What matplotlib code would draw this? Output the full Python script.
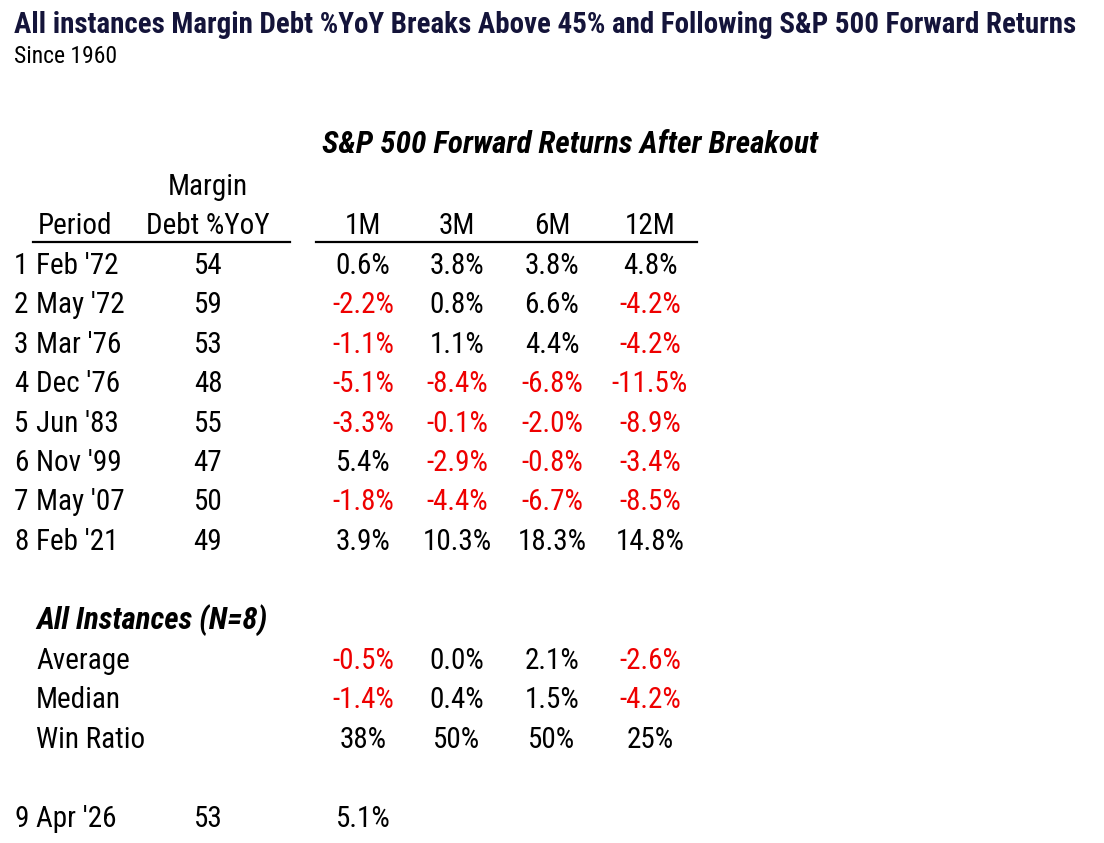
import matplotlib.pyplot as plt
from matplotlib.lines import Line2D

plt.rcParams['font.family'] = ['Roboto Condensed', 'Archivo Narrow', 'DejaVu Sans']

W, H = 1104, 843

title = "All instances Margin Debt %YoY Breaks Above 45% and Following S&P 500 Forward Returns"
subtitle = "Since 1960"
group_title = "S&P 500 Forward Returns After Breakout"
horizons = ["1M", "3M", "6M", "12M"]

periods = ["Feb '72", "May '72", "Mar '76", "Dec '76", "Jun '83", "Nov '99", "May '07", "Feb '21"]
margin_yoy = [54, 59, 53, 48, 55, 47, 50, 49]
ret_1m = [0.6, -2.2, -1.1, -5.1, -3.3, 5.4, -1.8, 3.9]
ret_3m = [3.8, 0.8, 1.1, -8.4, -0.1, -2.9, -4.4, 10.3]
ret_6m = [3.8, 6.6, 4.4, -6.8, -2.0, -0.8, -6.7, 18.3]
ret_12m = [4.8, -4.2, -4.2, -11.5, -8.9, -3.4, -8.5, 14.8]

summary_title = "All Instances (N=8)"
average = [-0.5, 0.0, 2.1, -2.6]
median = [-1.4, 0.4, 1.5, -4.2]
win_ratio = [38, 50, 50, 25]

current_period = "Apr '26"
current_margin = 53
current_1m = 5.1

RED = '#ee0000'
BLACK = '#000000'
NAVY = '#14143a'
FS = 21

fig = plt.figure(figsize=(W / 100, H / 100), dpi=100)


def txt(x, y, s, ha='left', **kw):
    # x, y in pixels from top-left, y is the text baseline
    kw.setdefault('fontsize', FS)
    kw.setdefault('color', BLACK)
    fig.text(x / W, 1 - y / H, s, ha=ha, va='baseline', **kw)


def pct(v):
    return f"{v:.1f}%"


def col(v):
    return RED if v < 0 else BLACK


# titles
txt(14, 33, title, fontsize=20.9, fontweight='bold', color=NAVY)
txt(14, 63, subtitle, fontsize=17)
txt(570, 153, group_title, ha='center', fontsize=22.5, fontweight='bold', style='italic')

# header
col_x = [363, 457, 552, 650]
txt(208, 195, "Margin", ha='center')
txt(75, 234, "Period", ha='center')
txt(208, 234, "Debt %YoY", ha='center')
for x, h in zip(col_x, horizons):
    txt(x, 234, h, ha='center')

for x0, x1 in [(33, 290), (316, 697)]:
    fig.add_artist(Line2D([x0 / W, x1 / W], [1 - 242 / H, 1 - 242 / H],
                          color=BLACK, lw=1.6, transform=fig.transFigure))

# rows
row_y0, row_dy = 274, 39.4
returns = list(zip(ret_1m, ret_3m, ret_6m, ret_12m))
for i, (p, m, rets) in enumerate(zip(periods, margin_yoy, returns)):
    y = row_y0 + i * row_dy
    txt(14, y, str(i + 1))
    txt(36, y, p)
    txt(208, y, str(m), ha='center')
    for x, v in zip(col_x, rets):
        txt(x, y, pct(v), ha='center', color=col(v))

# summary
txt(36, 629, summary_title, fontsize=22.2, fontweight='bold', style='italic')
for y, label, vals in [(669, "Average", average), (708, "Median", median)]:
    txt(36, y, label)
    for x, v in zip(col_x, vals):
        txt(x, y, pct(v), ha='center', color=col(v))
txt(36, 748, "Win Ratio")
for x, v in zip(col_x, win_ratio):
    txt(x, 748, f"{v}%", ha='center')

# current
txt(14, 827, str(len(periods) + 1))
txt(36, 827, current_period)
txt(208, 827, str(current_margin), ha='center')
txt(col_x[0], 827, pct(current_1m), ha='center', color=col(current_1m))

fig.savefig('out.png', dpi=100, facecolor='white')
